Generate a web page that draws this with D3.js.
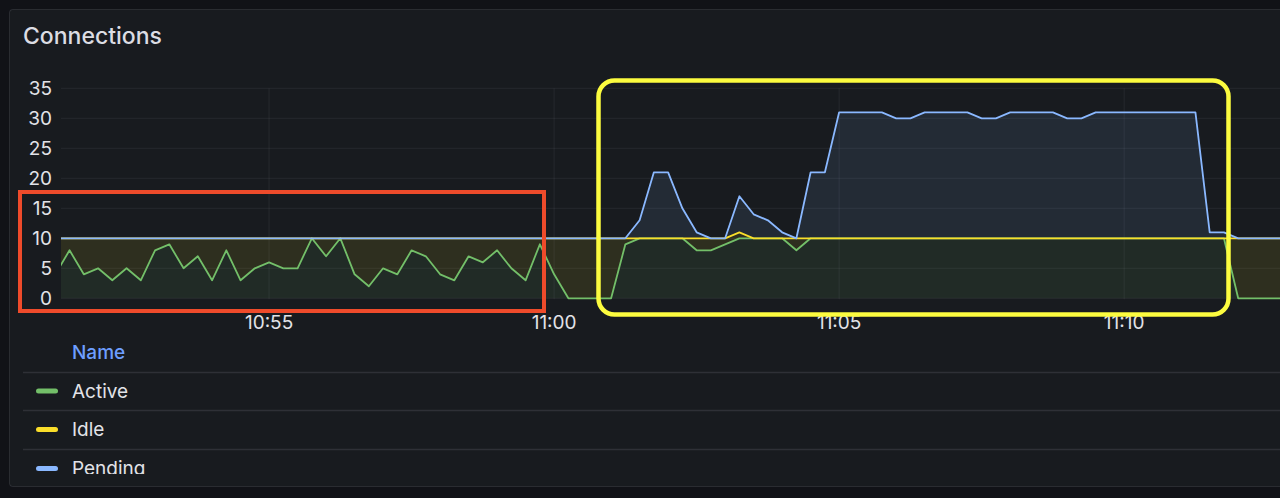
<!DOCTYPE html>
<html>
<head>
<meta charset="utf-8">
<script src="https://cdn.jsdelivr.net/npm/d3@7"></script>
<style>
  html, body { margin: 0; padding: 0; background: #111217; }
  svg { display: block; font-family: Inter, "Noto Sans", sans-serif; }
</style>
</head>
<body>
<svg id="chart" width="1280" height="498"></svg>
<script>
// ---- data (15 s samples) ----
const times = [
  "10:51:15","10:51:30","10:51:45","10:52:00","10:52:15","10:52:30","10:52:45","10:53:00","10:53:15","10:53:30",
  "10:53:45","10:54:00","10:54:15","10:54:30","10:54:45","10:55:00","10:55:15","10:55:30","10:55:45","10:56:00",
  "10:56:15","10:56:30","10:56:45","10:57:00","10:57:15","10:57:30","10:57:45","10:58:00","10:58:15","10:58:30",
  "10:58:45","10:59:00","10:59:15","10:59:30","10:59:45","11:00:00","11:00:15","11:00:30","11:00:45","11:01:00",
  "11:01:15","11:01:30","11:01:45","11:02:00","11:02:15","11:02:30","11:02:45","11:03:00","11:03:15","11:03:30",
  "11:03:45","11:04:00","11:04:15","11:04:30","11:04:45","11:05:00","11:05:15","11:05:30","11:05:45","11:06:00",
  "11:06:15","11:06:30","11:06:45","11:07:00","11:07:15","11:07:30","11:07:45","11:08:00","11:08:15","11:08:30",
  "11:08:45","11:09:00","11:09:15","11:09:30","11:09:45","11:10:00","11:10:15","11:10:30","11:10:45","11:11:00",
  "11:11:15","11:11:30","11:11:45","11:12:00","11:12:15","11:12:30","11:12:45"
];
const active = [
  4,8,4,5,3,5,3,8,9,5, 7,3,8,3,5,6,5,5,10,7,
  10,4,2,5,4,8,7,4,3,7, 6,8,5,3,9,4,0,0,0,0,
  9,10,10,10,10,8,8,9,10,10, 10,10,8,10,10,10,10,10,10,10,
  10,10,10,10,10,10,10,10,10,10, 10,10,10,10,10,10,10,10,10,10,
  10,10,10,0,0,0,0
];
const idle = [
  6,2,6,5,7,5,7,2,1,5, 3,7,2,7,5,4,5,5,0,3,
  0,6,8,5,6,2,3,6,7,3, 4,2,5,7,1,6,10,10,10,10,
  1,0,0,0,0,2,2,1,1,0, 0,0,2,0,0,0,0,0,0,0,
  0,0,0,0,0,0,0,0,0,0, 0,0,0,0,0,0,0,0,0,0,
  0,0,0,10,10,10,10
];
const pending = [
  0,0,0,0,0,0,0,0,0,0, 0,0,0,0,0,0,0,0,0,0,
  0,0,0,0,0,0,0,0,0,0, 0,0,0,0,0,0,0,0,0,0,
  0,3,11,11,5,1,0,0,6,4, 3,1,0,11,11,21,21,21,21,20,
  20,21,21,21,21,20,20,21,21,21, 21,20,20,21,21,21,21,21,21,21,
  21,1,1,0,0,0,0
];
const seriesNames = ["Active", "Idle", "Pending"];
const seriesColors = ["#73bf69", "#fade2a", "#8ab8ff"];
const yTicks = [0, 5, 10, 15, 20, 25, 30, 35];
const viewStart = "10:51:21", viewEnd = "11:12:44";
const title = "Connections";

// ---- setup ----
const parse = s => d3.timeParse("%Y-%m-%d %H:%M:%S")("2024-01-01 " + s);
const rows = times.map((t, i) => ({ t: parse(t), Active: active[i], Idle: idle[i], Pending: pending[i] }));
const stacked = d3.stack().keys(seriesNames)(rows);

const svg = d3.select("#chart");
const W = 1280, H = 498;
const plot = { left: 61, right: 1280, top: 88.3, bottom: 298.3 };

const x = d3.scaleTime().domain([parse(viewStart), parse(viewEnd)]).range([plot.left, plot.right]);
const y = d3.scaleLinear().domain([0, 35]).range([plot.bottom, plot.top]);

// panel
svg.append("rect").attr("x", 9.5).attr("y", 9.5).attr("width", 1300).attr("height", 477)
  .attr("rx", 3).attr("fill", "#181b1f").attr("stroke", "rgba(204,204,220,0.12)");

svg.append("text").attr("x", 23).attr("y", 43.5).text(title)
  .attr("fill", "#dcdde3").attr("font-size", 23).attr("font-weight", 500);

const defs = svg.append("defs");
defs.append("clipPath").attr("id", "plotclip").append("rect")
  .attr("x", plot.left).attr("y", plot.top - 6).attr("width", plot.right - plot.left).attr("height", plot.bottom - plot.top + 8);
defs.append("clipPath").attr("id", "legclip").append("rect")
  .attr("x", 0).attr("y", 330).attr("width", W).attr("height", 144);

// grid
const grid = svg.append("g");
grid.selectAll("line.h").data(yTicks).join("line")
  .attr("x1", plot.left).attr("x2", plot.right)
  .attr("y1", d => y(d)).attr("y2", d => y(d))
  .attr("stroke", "rgba(204,204,220,0.08)").attr("stroke-width", 1);
const xTicks = x.ticks(d3.timeMinute.every(5));
grid.selectAll("line.v").data(xTicks).join("line")
  .attr("x1", d => x(d)).attr("x2", d => x(d))
  .attr("y1", plot.top).attr("y2", plot.bottom + 1)
  .attr("stroke", "rgba(204,204,220,0.08)").attr("stroke-width", 1);

// y axis labels
svg.append("g").selectAll("text").data(yTicks).join("text")
  .attr("x", 52).attr("y", d => y(d)).attr("dy", "0.36em")
  .attr("text-anchor", "end").attr("fill", "#e2e3e8").attr("font-size", 19)
  .text(d => d);

// x axis labels
const fmt = d3.timeFormat("%H:%M");
svg.append("g").selectAll("text").data(xTicks).join("text")
  .attr("x", d => x(d)).attr("y", 328.5)
  .attr("text-anchor", "middle").attr("fill", "#e2e3e8").attr("font-size", 19)
  .text(d => fmt(d));

// areas and lines
const plotG = svg.append("g").attr("clip-path", "url(#plotclip)");
const area = d3.area().x(d => x(d.data.t)).y0(d => y(d[0])).y1(d => y(d[1]));
const line = d3.line().x(d => x(d.data.t)).y(d => y(d[1]));
plotG.selectAll("path.area").data(stacked).join("path")
  .attr("d", area).attr("fill", (d, i) => seriesColors[i]).attr("fill-opacity", 0.1);
plotG.selectAll("path.line").data(stacked).join("path")
  .attr("d", line).attr("fill", "none").attr("stroke", (d, i) => seriesColors[i])
  .attr("stroke-width", 1.8).attr("stroke-linejoin", "round");

// legend
const leg = svg.append("g").attr("clip-path", "url(#legclip)");
leg.append("text").attr("x", 72).attr("y", 359).text("Name")
  .attr("fill", "#6e9fff").attr("font-size", 19).attr("font-weight", 500);
const rowY = [391, 429.5, 468.5];
leg.selectAll("line.sep").data([372.5, 410.5, 449.5]).join("line")
  .attr("x1", 23).attr("x2", W).attr("y1", d => d).attr("y2", d => d)
  .attr("stroke", "rgba(204,204,220,0.12)").attr("stroke-width", 1.5);
const items = leg.selectAll("g.item").data(seriesNames).join("g");
items.append("rect").attr("x", 36).attr("y", (d, i) => rowY[i] - 2.5)
  .attr("width", 22).attr("height", 5).attr("rx", 2.5)
  .attr("fill", (d, i) => seriesColors[i]);
items.append("text").attr("x", 72).attr("y", (d, i) => rowY[i]).attr("dy", "0.36em")
  .attr("fill", "#e2e3e8").attr("font-size", 19).text(d => d);

// annotation boxes
svg.append("rect").attr("x", 20).attr("y", 192).attr("width", 524).attr("height", 119)
  .attr("fill", "none").attr("stroke", "#ee4b2b").attr("stroke-width", 4);
svg.append("rect").attr("x", 598.5).attr("y", 80.5).attr("width", 630).attr("height", 234)
  .attr("rx", 16).attr("fill", "none").attr("stroke", "#fcfc3f").attr("stroke-width", 4.5);
</script>
</body>
</html>
